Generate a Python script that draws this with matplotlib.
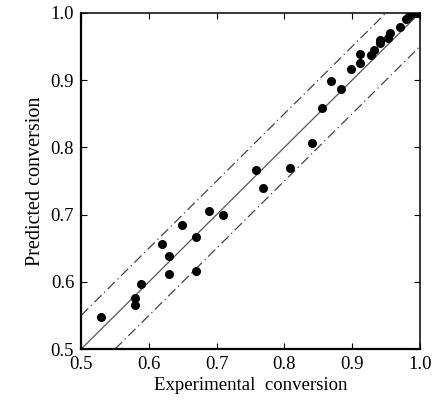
import matplotlib
matplotlib.use("Agg")
import matplotlib.pyplot as plt

plt.rcParams["font.family"] = ["Liberation Serif", "DejaVu Serif"]

exp_conv = [0.529, 0.580, 0.580, 0.589, 0.619, 0.630, 0.630, 0.649, 0.670, 0.670,
            0.689, 0.709, 0.758, 0.769, 0.808, 0.841, 0.855, 0.869, 0.884, 0.898,
            0.912, 0.912, 0.928, 0.933, 0.941, 0.941, 0.953, 0.956, 0.970, 0.979,
            0.984, 0.989, 0.993, 0.996, 0.999]
pred_conv = [0.548, 0.576, 0.565, 0.597, 0.656, 0.639, 0.612, 0.684, 0.667, 0.616,
             0.705, 0.699, 0.766, 0.739, 0.770, 0.807, 0.858, 0.898, 0.887, 0.917,
             0.939, 0.925, 0.938, 0.945, 0.955, 0.959, 0.962, 0.970, 0.979, 0.991,
             0.996, 1.000, 1.000, 1.000, 1.000]

band = 0.05
diag = [0.5, 1.0]
ticks = [0.5, 0.6, 0.7, 0.8, 0.9, 1.0]

fig = plt.figure(figsize=(4.41, 4.04), dpi=100)
ax = fig.add_axes([0.184, 0.136, 0.768, 0.832])

ax.plot(diag, diag, color="#555555", lw=0.9)
ax.plot([0.5, 1.0 - band], [0.5 + band, 1.0], color="#444444", lw=0.9,
        linestyle=(0, (8, 3, 1, 3)))
ax.plot([0.5 + band, 1.0], [0.5, 1.0 - band], color="#444444", lw=0.9,
        linestyle=(0, (8, 3, 1, 3)))

ax.plot(exp_conv, pred_conv, "o", color="black", markersize=5.5)

ax.set_xlim(0.5, 1.0)
ax.set_ylim(0.5, 1.0)
ax.set_xticks(ticks)
ax.set_yticks(ticks)
ax.set_xticklabels([f"{t:.1f}" for t in ticks])
ax.set_yticklabels([f"{t:.1f}" for t in ticks])
ax.tick_params(direction="in", length=4, width=0.8, labelsize=13.5,
               top=True, right=True, pad=5)

for side in ["left", "bottom"]:
    ax.spines[side].set_linewidth(1.6)
for side in ["top", "right"]:
    ax.spines[side].set_linewidth(1.1)

ax.set_xlabel("Experimental  conversion", fontsize=13.5, labelpad=3)
ax.set_ylabel("Predicted conversion", fontsize=14.5, labelpad=4)

fig.savefig("out.png", dpi=100)
